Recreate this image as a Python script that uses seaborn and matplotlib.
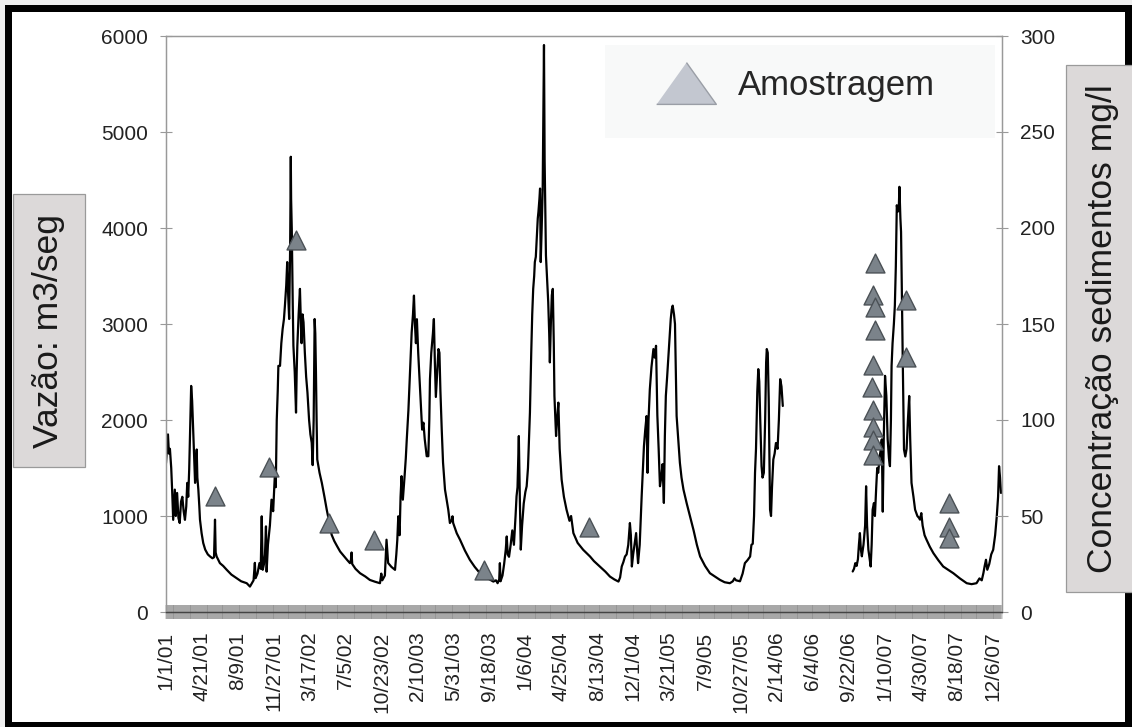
import numpy as np
import pandas as pd
import matplotlib
matplotlib.use("Agg")
import matplotlib.pyplot as plt
import matplotlib.dates as mdates
from matplotlib.patches import Rectangle
from matplotlib.lines import Line2D
from matplotlib.ticker import FixedLocator, NullFormatter
import seaborn as sns

# ---------------- data ----------------
BASE = "2001-01-01"   # day 0 of the series

# daily discharge (Vazão, m3/s) read at key days (days since BASE); NaN = missing data gap
dia = [
    0, 3, 6, 9, 12, 16, 19, 22, 25, 27, 30, 34, 38, 42, 46, 50, 54, 58, 62, 65, 68, 71, 74, 77, 80, 82, 85, 89, 92, 94,
    96, 99, 102, 104, 109, 114, 120, 128, 135, 142, 147, 150, 152, 155, 165, 175, 186, 200, 216, 230, 247, 257, 263, 268,
    272, 274, 280, 286, 290, 293, 296, 300, 303, 306, 308, 312, 318, 323, 328, 334, 336, 339, 342, 344, 349, 353, 357,
    361, 364, 368, 371, 374, 377, 380, 382, 383, 385, 388, 390, 394, 398, 400, 402, 406, 410, 413, 415, 418, 421, 425,
    429, 433, 438, 442, 446, 449, 452, 455, 457, 459, 461, 463, 470, 477, 485, 492, 500, 507, 515, 523, 533, 545, 555,
    563, 566, 568, 570, 580, 594, 610, 624, 640, 655, 659, 662, 670, 675, 678, 680, 690, 701, 705, 708, 711, 715, 718,
    721, 723, 725, 730, 734, 737, 742, 747, 752, 756, 759, 762, 765, 768, 772, 775, 778, 780, 784, 788, 792, 798, 803,
    806, 808, 812, 817, 820, 823, 826, 830, 834, 837, 840, 844, 848, 854, 860, 864, 869, 875, 877, 879, 890, 900, 915,
    930, 945, 961, 980, 1002, 1010, 1015, 1020, 1022, 1024, 1030, 1035, 1040, 1043, 1046, 1050, 1055, 1060, 1065, 1070,
    1073, 1076, 1080, 1083, 1086, 1090, 1095, 1100, 1104, 1108, 1111, 1114, 1118, 1121, 1124, 1127, 1129, 1132, 1135,
    1138, 1140, 1143, 1145, 1147, 1150, 1153, 1155, 1157, 1159, 1161, 1163, 1166, 1170, 1173, 1175, 1178, 1181, 1184,
    1187, 1189, 1194, 1197, 1201, 1205, 1211, 1218, 1226, 1235, 1240, 1247, 1260, 1277, 1298, 1310, 1328, 1345, 1359,
    1372, 1385, 1390, 1395, 1400, 1405, 1410, 1415, 1420, 1423, 1426, 1430, 1434, 1439, 1442, 1445, 1450, 1456, 1460,
    1463, 1467, 1471, 1474, 1477, 1481, 1486, 1492, 1496, 1500, 1504, 1508, 1512, 1516, 1520, 1524, 1527, 1530, 1534,
    1538, 1542, 1545, 1548, 1551, 1555, 1558, 1563, 1568, 1573, 1578, 1584, 1594, 1604, 1615, 1625, 1635, 1650, 1665,
    1680, 1696, 1710, 1726, 1735, 1740, 1745, 1757, 1765, 1772, 1780, 1788, 1792, 1796, 1800, 1803, 1806, 1810, 1813,
    1816, 1819, 1823, 1826, 1830, 1834, 1837, 1839, 1842, 1845, 1849, 1852, 1855, 1859, 1863, 1867, 1872, 1876, 1880,
    1884, 1888, 1889,
    2102, 2106, 2110, 2114, 2118, 2121, 2124, 2127, 2130, 2135, 2140, 2143, 2146, 2150, 2154, 2157, 2160, 2163, 2167,
    2170, 2174, 2177, 2180, 2184, 2188, 2191, 2194, 2197, 2201, 2205, 2209, 2213, 2216, 2219, 2221, 2224, 2228, 2231,
    2234, 2237, 2240, 2243, 2245, 2248, 2250, 2253, 2255, 2259, 2263, 2267, 2271, 2275, 2278, 2282, 2288, 2293, 2300,
    2305, 2308, 2312, 2316, 2322, 2328, 2338, 2349, 2364, 2379, 2394, 2410, 2430, 2451, 2466, 2481, 2490, 2497, 2502,
    2506, 2510, 2514, 2520, 2526, 2532, 2538, 2543, 2547, 2550, 2553, 2556,
]
vazao = [
    1550, 1700, 1850, 1650, 1700, 1500, 1250, 960, 1150, 1275, 1000, 1240, 980, 927, 1150, 1200, 1050, 960, 1100, 1345,
    1200, 1485, 1900, 2355, 2200, 2007, 1700, 1345, 1500, 1693,
    1400, 1275, 1100, 962, 820, 718, 650, 600, 578, 560, 570, 962, 620, 578, 509, 480, 439, 390, 352, 320, 300, 265, 300,
    330,
    512, 352, 400, 509, 450, 997, 440, 500, 600, 892, 420, 700, 900, 1170, 1050, 1484, 1300, 2000, 2300, 2564, 2564,
    2800, 2948,
    3050, 3191, 3400, 3645, 3300, 3052, 3800, 4742, 4300, 3990, 3200, 2773, 2500, 2077, 2500, 2773, 3100, 3366, 3000,
    2800, 3100, 3018, 2700,
    2450, 2286, 2000, 1850, 1763, 1530, 2000, 3052, 2900, 2500, 2000, 1589, 1450, 1345, 1200, 1066, 930, 805, 740, 690,
    630, 580, 540,
    509, 540, 620, 500, 450, 404, 370, 334, 315, 300, 400, 330, 380, 753, 600, 510, 470, 439, 600, 750, 997, 800, 1200,
    1415, 1300, 1170, 1400, 1600, 1798, 2100, 2500, 2913, 3100, 3296, 3000, 2800, 3050, 2700, 2500, 2300, 2146, 1900,
    1972, 1800, 1623, 1623,
    2000, 2425, 2700, 2900, 3052, 2600, 2240, 2500, 2739, 2700, 2300, 1902, 1557, 1275, 1150, 1066, 927, 960, 997, 927,
    820, 753, 640,
    544, 470, 404, 360, 317, 330, 300, 340, 509, 320, 380, 500, 650, 787, 600, 575, 700, 850, 700, 1000,
    1205, 1300, 1833, 1200, 650, 900, 1130, 1250, 1310, 1500, 1800, 2077, 2700, 3100, 3366, 3500, 3645, 3700, 3900,
    4100, 4167, 4300, 4411, 3645, 4000, 4400, 5200, 5906, 4700, 4200, 3714, 3500, 3227, 2900, 2600, 3000, 3300, 3366,
    2800, 2250, 1833, 2000, 2181, 1700, 1380, 1200, 1066, 950, 1000, 822, 720, 648, 578, 530, 474, 420, 369,
    340, 317, 360, 474, 520, 578, 600, 700, 927, 800, 474, 600, 700, 822, 650, 509, 700, 1205, 1500,
    1728, 1900, 2041, 1450, 2000, 2320, 2550, 2739, 2650, 2773, 2050, 1700, 1310, 1400, 1540, 1136, 1830, 2250, 2450,
    2669, 2900, 3052, 3150, 3191, 3100, 3000, 2041, 1800, 1554, 1400, 1275, 1130, 997, 850, 700, 578, 480, 404,
    370, 334, 310, 300, 320, 350, 330, 320, 400, 509, 540, 578, 700, 710, 1000, 1450, 1700, 2300, 2530,
    2400, 2000, 1519, 1400, 1450, 2000, 2600, 2739, 2700, 2200, 1066, 1000, 1300, 1589, 1650, 1760, 1700, 2000, 2425,
    2350, 2146, np.nan,
    422, 450, 509, 480, 550, 700, 822, 650, 580, 700, 900, 1310, 900, 650, 550, 474, 700, 1066, 1135,
    1000, 1300, 1500, 1450, 1600, 1700, 1798, 1045, 1800, 2460, 2250, 1800, 1600, 1519, 2000, 2564, 2800, 3000, 3191,
    3600, 4237, 4170, 4200, 4429, 4100, 3960, 3200, 2669, 1693, 1620, 1700, 2000, 2250, 1800, 1345, 1200, 1066, 1000,
    980, 962, 1030, 900, 800, 753, 680, 613, 540, 474, 440, 404, 350, 300, 290, 300, 350, 330, 404,
    480, 544, 440, 500, 600, 648, 800, 997, 1200, 1519, 1400, 1240,
]

# sediment samples (Amostragem): days since BASE and concentration (mg/l)
amostra_dia = [150, 315, 397, 499, 638, 973, 1295,
               2170, 2165, 2170, 2170, 2163, 2160, 2165, 2163, 2163, 2163,
               2265, 2265, 2398, 2398, 2398]
amostra_conc = [60.6, 75.7, 193.7, 46.3, 37.5, 21.9, 44.4,
                181.6, 165.1, 159.0, 146.9, 128.6, 117.3, 105.2, 96.5, 89.6, 81.8,
                162.5, 133.0, 56.6, 44.4, 38.4]

tick_labels = ["1/1/01", "4/21/01", "8/9/01", "11/27/01", "3/17/02", "7/5/02", "10/23/02",
               "2/10/03", "5/31/03", "9/18/03", "1/6/04", "4/25/04", "8/13/04", "12/1/04",
               "3/21/05", "7/9/05", "10/27/05", "2/14/06", "6/4/06", "9/22/06", "1/10/07",
               "4/30/07", "8/18/07", "12/6/07"]
y_left_ticks = [0, 1000, 2000, 3000, 4000, 5000, 6000]
y_right_ticks = [0, 50, 100, 150, 200, 250, 300]

# ---------------- frame ----------------
W, H = 1132, 727
sns.set_theme(style="white")
plt.rcParams["font.family"] = ["Liberation Sans", "DejaVu Sans"]

fig = plt.figure(figsize=(W / 100, H / 100), dpi=100, facecolor="#eeeeee")


def fig_rect(x0, y0, x1, y1, **kw):
    """rectangle in pixel coords (origin top-left)"""
    return Rectangle((x0 / W, 1 - y1 / H), (x1 - x0) / W, (y1 - y0) / H,
                     transform=fig.transFigure, **kw)


fig.patches.append(fig_rect(5, 5, W, H, facecolor="black", edgecolor="none", zorder=-3))
fig.patches.append(fig_rect(12, 12, 1125, 722, facecolor="white", edgecolor="none", zorder=-2))

ax_l, ax_r, ax_t, ax_b = 166, 1002, 36, 612
ax = fig.add_axes([ax_l / W, 1 - ax_b / H, (ax_r - ax_l) / W, (ax_b - ax_t) / H])
ax.set_facecolor("none")

base = pd.Timestamp(BASE)
df = pd.DataFrame({"data": base + pd.to_timedelta(dia, unit="D"), "vazao": vazao})
df["trecho"] = df["vazao"].isna().cumsum()
df = df.dropna()
sns.lineplot(data=df, x="data", y="vazao", units="trecho", estimator=None, sort=False,
             color="black", lw=1.6, ax=ax)

ax2 = ax.twinx()
ds = pd.DataFrame({"data": base + pd.to_timedelta(amostra_dia, unit="D"), "conc": amostra_conc})
sns.scatterplot(data=ds, x="data", y="conc", marker="^", s=185, color="#7b838a",
                edgecolor="#4b5156", linewidth=1.0, ax=ax2, zorder=5)

# axes limits
x0 = mdates.date2num(base)
x1 = mdates.date2num(base + pd.Timedelta(days=2559))
ax.set_xlim(x0, x1)
ax.set_ylim(0, 6000)
ax2.set_ylim(0, 300)

# x ticks: labelled every 110 days, a tick mark for every other day
tick_pos = mdates.date2num(pd.to_datetime(tick_labels, format="%m/%d/%y"))
ax.xaxis.set_major_locator(FixedLocator(tick_pos))
ax.set_xticklabels(tick_labels, rotation=90, fontsize=15, color="#222222")
minor_pos = mdates.date2num(pd.date_range(base, base + pd.Timedelta(days=2558), freq="2D"))
ax.xaxis.set_minor_locator(FixedLocator(minor_pos))
ax.xaxis.set_minor_formatter(NullFormatter())
ax.tick_params(axis="x", which="both", direction="inout", length=10, width=0.3,
               color="#555555", bottom=True, pad=9)
ax.tick_params(axis="x", which="major", labelsize=15)

ax.set_yticks(y_left_ticks)
ax.set_yticklabels([str(v) for v in y_left_ticks], fontsize=15, color="#222222")
ax.tick_params(axis="y", direction="inout", length=9, width=0.8, color="#999999", left=True, pad=8.5)
ax2.set_yticks(y_right_ticks)
ax2.set_yticklabels([str(v) for v in y_right_ticks], fontsize=15, color="#222222")
ax2.tick_params(axis="y", direction="inout", length=9, width=0.8, color="#999999", right=True, pad=8.5)

for a in (ax, ax2):
    for side in ("left", "right", "top"):
        a.spines[side].set_color("#999999")
        a.spines[side].set_linewidth(0.9)
    a.spines["bottom"].set_color("#444444")
    a.spines["bottom"].set_linewidth(0.9)
ax.set_xlabel("")
ax2.set_xlabel("")

# axis titles in grey boxes
box = dict(boxstyle="square,pad=0.55", facecolor="#dcd9d9", edgecolor="#9a9a9a", linewidth=0.9)
ax.set_ylabel("Vazão: m3/seg", fontsize=25.5, color="#1a1a1a", bbox=box)
ax.yaxis.set_label_coords(-0.14, 0.488)
ax.yaxis.label.set_va("center")
ax.yaxis.label.set_ha("center")
ax2.set_ylabel("Concentração sedimentos mg/l", fontsize=25.5, color="#1a1a1a", bbox=box, rotation=90)
ax2.yaxis.set_label_coords(1.12, 0.492)
ax2.yaxis.label.set_va("center")
ax2.yaxis.label.set_ha("center")

# legend
lx0, lx1, ly0, ly1 = 605, 995, 45, 138
ax2.add_patch(Rectangle(((lx0 - ax_l) / (ax_r - ax_l), (ax_b - ly1) / (ax_b - ax_t)),
                        (lx1 - lx0) / (ax_r - ax_l), (ly1 - ly0) / (ax_b - ax_t),
                        transform=ax2.transAxes, facecolor="#f8f9f9", edgecolor="none", zorder=6))
tri = [(-1, -0.7), (1, -0.7), (0, 0.7)]
handle = Line2D([], [], ls="none", marker=tri, markersize=43, markerfacecolor="#c3c7d0",
                markeredgecolor="#9a9ea6", markeredgewidth=1.0)
leg = ax2.legend(handles=[handle], labels=["Amostragem"], loc="center left",
                 bbox_to_anchor=((655 - ax_l) / (ax_r - ax_l), (ax_b - 86) / (ax_b - ax_t)),
                 frameon=False, fontsize=25, handlelength=1.8, handletextpad=0.6,
                 borderpad=0, borderaxespad=0)
leg.set_zorder(7)

fig.savefig("out.png", dpi=100, facecolor=fig.get_facecolor())
